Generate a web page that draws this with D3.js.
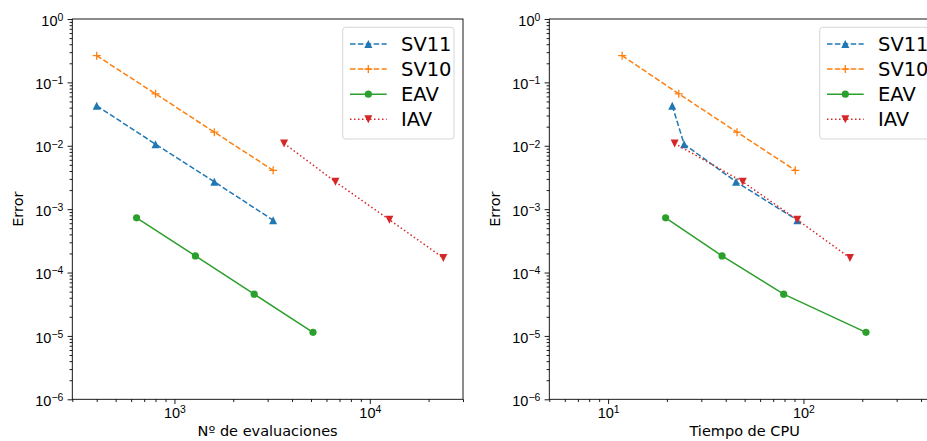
<!DOCTYPE html>
<html>
<meta charset="utf-8">
<head>
    <script src="https://d3js.org/d3.v7.min.js"></script>
    <style>
        body { margin: 0; background: #fff; }
        svg { display: block; font-family: "DejaVu Sans", sans-serif; }
    </style>
</head>
<body>
    <div id="my_dataviz"></div>
</body>

<script>
    // series names and styles order
    const seriesNames = ["SV11", "SV10", "EAV", "IAV"];

    // error values (same on both panels)
    const errSV11 = [0.0428, 0.0106, 0.0027, 0.00067];
    const errSV10 = [0.264, 0.066, 0.0164, 0.0041];
    const errEAV  = [0.00073, 0.000183, 4.55e-5, 1.14e-5];
    const errIAV  = [0.0109, 0.0027, 0.00068, 0.00017];

    // left panel: number of evaluations
    const evalsSV11 = [400, 800, 1600, 3200];
    const evalsSV10 = [400, 800, 1600, 3200];
    const evalsEAV  = [640, 1280, 2560, 5120];
    const evalsIAV  = [3640, 6670, 12600, 23800];

    // right panel: CPU time
    const cpuSV11 = [21.3, 24.5, 45.2, 93];
    const cpuSV10 = [11.8, 23.0, 45.7, 90.8];
    const cpuEAV  = [19.7, 38.3, 79.2, 209];
    const cpuIAV  = [21.9, 48.9, 93, 173];

    // tick exponents
    const yExps = [0, -1, -2, -3, -4, -5, -6];
    const evalsExps = [3, 4];
    const cpuExps = [1, 2];

    const colors = ["#1f77b4", "#ff7f0e", "#2ca02c", "#d62728"];
    const dashes = ["5.5,2.4", "5.5,2.4", null, "1.5,2.5"];
    const markers = ["tri-up", "plus", "circle", "tri-down"];

    const W = 927, H = 441;
    const svg = d3.select("#my_dataviz")
        .append("svg")
            .attr("width", W)
            .attr("height", H);

    const panelH = { top: 19, bottom: 399.3 };
    const axW = 390.7;

    function sup(textSel, exp) {
        textSel.append("tspan").text("10");
        textSel.append("tspan")
            .attr("dy", "-0.45em")
            .style("font-size", "0.72em")
            .text(exp < 0 ? "\u2212" + (-exp) : String(exp));
    }

    function markerPath(kind, s) {
        const h = s / 2;
        if (kind === "tri-up") return `M0,${-h}L${h},${h}L${-h},${h}Z`;
        if (kind === "tri-down") return `M0,${h}L${h},${-h}L${-h},${-h}Z`;
        if (kind === "plus") return `M${-h},0H${h}M0,${-h}V${h}`;
        return null;
    }

    function drawMarker(g, kind, cx, cy, color) {
        if (kind === "circle") {
            g.append("circle").attr("cx", cx).attr("cy", cy).attr("r", 3.6)
                .attr("fill", color);
        } else if (kind === "plus") {
            g.append("path").attr("d", markerPath(kind, 8))
                .attr("transform", `translate(${cx},${cy})`)
                .attr("fill", "none").attr("stroke", color).attr("stroke-width", 1.3);
        } else {
            g.append("path").attr("d", markerPath(kind, 8))
                .attr("transform", `translate(${cx},${cy})`)
                .attr("fill", color);
        }
    }

    function panel(left, xDomain, xExps, xLabel, xsList, id) {
        const x = d3.scaleLog().domain(xDomain).range([left, left + axW]);
        const y = d3.scaleLog().domain([1e-6, 1]).range([panelH.bottom, panelH.top]);
        const g = svg.append("g");

        g.append("clipPath").attr("id", "clip" + id)
            .append("rect")
                .attr("x", left).attr("y", panelH.top)
                .attr("width", axW).attr("height", panelH.bottom - panelH.top);

        // x axis with minor ticks
        const xMinor = [];
        for (let e = Math.floor(Math.log10(xDomain[0])); e <= Math.ceil(Math.log10(xDomain[1])); e++) {
            for (let k = 2; k <= 9; k++) {
                const v = k * Math.pow(10, e);
                if (v >= xDomain[0] && v <= xDomain[1]) xMinor.push(v);
            }
        }
        g.append("g")
            .attr("transform", `translate(0,${panelH.bottom})`)
            .call(d3.axisBottom(x).tickValues(xMinor).tickSize(2.7).tickFormat(""))
            .call(a => a.select(".domain").remove());
        const xAx = g.append("g")
            .attr("transform", `translate(0,${panelH.bottom})`)
            .call(d3.axisBottom(x).tickValues(xExps.map(e => Math.pow(10, e))).tickSize(4.7).tickFormat(""));
        xAx.select(".domain").remove();
        xAx.selectAll(".tick").each(function(d, i) {
            const t = d3.select(this).append("text")
                .attr("y", 18.5)
                .attr("fill", "#000")
                .style("font-size", "14.5px")
                .attr("text-anchor", "middle");
            sup(t, xExps[i]);
        });

        // y axis with minor ticks
        const yMinor = [];
        for (let e = -6; e < 0; e++) {
            for (let k = 2; k <= 9; k++) yMinor.push(k * Math.pow(10, e));
        }
        g.append("g")
            .attr("transform", `translate(${left},0)`)
            .call(d3.axisLeft(y).tickValues(yMinor).tickSize(2.7).tickFormat(""))
            .call(a => a.select(".domain").remove());
        const yAx = g.append("g")
            .attr("transform", `translate(${left},0)`)
            .call(d3.axisLeft(y).tickValues(yExps.map(e => Math.pow(10, e))).tickSize(4.7).tickFormat(""));
        yAx.select(".domain").remove();
        yAx.selectAll(".tick").each(function(d) {
            const t = d3.select(this).append("text")
                .attr("x", -9)
                .attr("dy", "0.42em")
                .attr("fill", "#000")
                .style("font-size", "14.5px")
                .attr("text-anchor", "end");
            sup(t, Math.round(Math.log10(d)));
        });
        g.selectAll(".tick line").attr("stroke", "#000").attr("stroke-width", 0.9);

        // frame
        g.append("rect")
            .attr("x", left).attr("y", panelH.top)
            .attr("width", axW).attr("height", panelH.bottom - panelH.top)
            .attr("fill", "none").attr("stroke", "#000").attr("stroke-width", 0.9);

        // labels
        g.append("text")
            .attr("x", left + axW / 2).attr("y", 436)
            .attr("text-anchor", "middle")
            .style("font-size", "14.5px")
            .text(xLabel);
        g.append("text")
            .attr("transform", `translate(${left - 49},${(panelH.top + panelH.bottom) / 2})rotate(-90)`)
            .attr("text-anchor", "middle")
            .style("font-size", "14.5px")
            .text("Error");

        // series
        const errs = [errSV11, errSV10, errEAV, errIAV];
        const plot = g.append("g").attr("clip-path", `url(#clip${id})`);
        seriesNames.forEach((name, si) => {
            const pts = xsList[si].map((v, i) => [x(v), y(errs[si][i])]);
            plot.append("path")
                .attr("d", d3.line()(pts))
                .attr("fill", "none")
                .attr("stroke", colors[si])
                .attr("stroke-width", 1.5)
                .attr("stroke-dasharray", dashes[si]);
            pts.forEach(p => drawMarker(plot, markers[si], p[0], p[1], colors[si]));
        });

        // legend
        const lx = left + axW - 9 - 111.3, ly = panelH.top + 8.3;
        const leg = g.append("g");
        leg.append("rect")
            .attr("x", lx).attr("y", ly)
            .attr("width", 111.3).attr("height", 111.7)
            .attr("rx", 3)
            .attr("fill", "#fff").attr("fill-opacity", 0.8)
            .attr("stroke", "#d6d6d6").attr("stroke-width", 1);
        seriesNames.forEach((name, si) => {
            const ry = ly + 16.7 + si * 25.1;
            leg.append("line")
                .attr("x1", lx + 7.3).attr("x2", lx + 44)
                .attr("y1", ry).attr("y2", ry)
                .attr("stroke", colors[si])
                .attr("stroke-width", 1.5)
                .attr("stroke-dasharray", dashes[si]);
            drawMarker(leg, markers[si], lx + 25.6, ry, colors[si]);
            leg.append("text")
                .attr("x", lx + 58.3).attr("y", ry)
                .attr("dy", "0.36em")
                .style("font-size", "19.5px")
                .text(name);
        });
    }

    panel(72.3, [300, 30000], evalsExps, "N\u00ba de evaluaciones",
        [evalsSV11, evalsSV10, evalsEAV, evalsIAV], "a");
    panel(549.3, [5, 500], cpuExps, "Tiempo de CPU",
        [cpuSV11, cpuSV10, cpuEAV, cpuIAV], "b");
</script>
</html>
